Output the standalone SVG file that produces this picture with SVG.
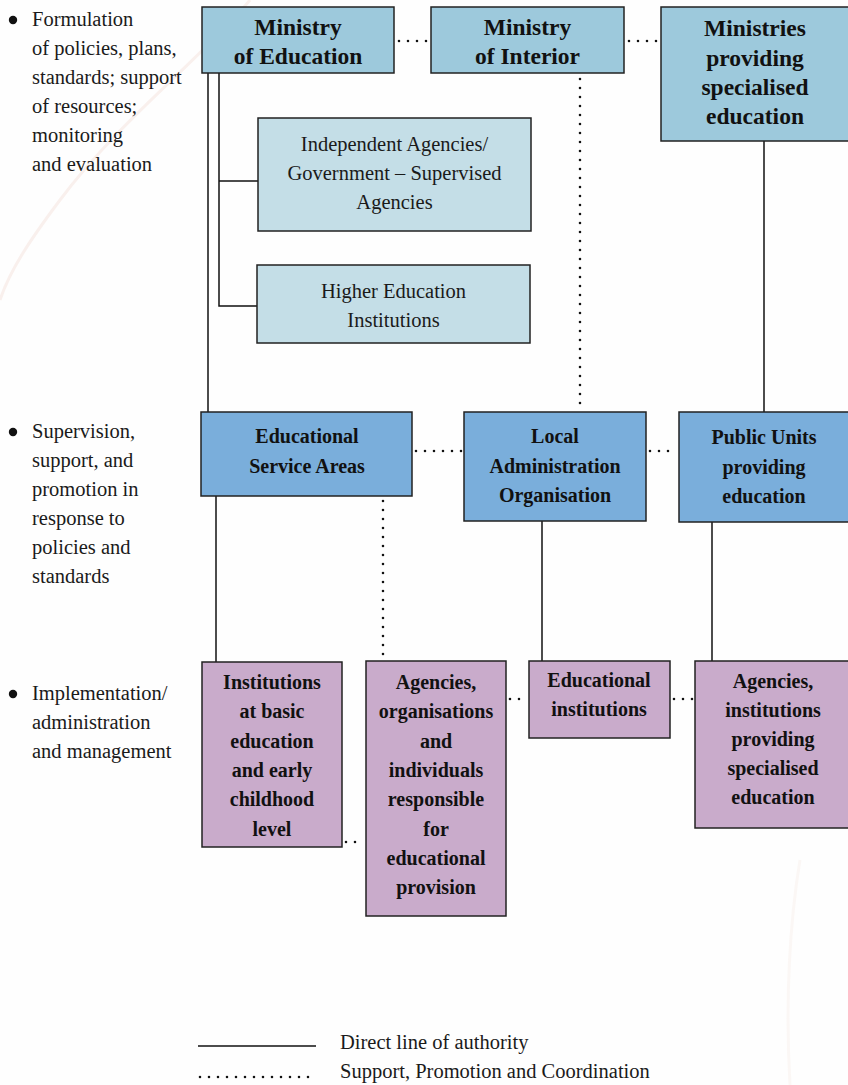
<svg xmlns="http://www.w3.org/2000/svg" width="848" height="1085" viewBox="0 0 848 1085">
<style>
.side{font-family:"Liberation Serif",serif;font-size:20.5px;fill:#1a1a1a}
.t{font-family:"Liberation Serif",serif;font-weight:bold;fill:#111;text-anchor:middle}
.t22{font-size:23.5px}
.t18{font-size:20px}
.r{font-family:"Liberation Serif",serif;font-size:20.5px;fill:#1a1a1a;text-anchor:middle}
.b{stroke:#222;stroke-width:1.5}
.top{fill:#9dc9dc}
.sub{fill:#c4dee7}
.mid{fill:#7aaedb}
.low{fill:#c9abcb}
.solid{stroke:#111;stroke-width:1.5;fill:none}
.dot{stroke:#111;stroke-width:2.6;stroke-linecap:round;stroke-dasharray:0 9;fill:none}
</style>
<rect width="848" height="1085" fill="#fefefe"/>
<path d="M250,0 C200,60 120,120 60,200 C30,240 10,270 0,300" stroke="#f5e0da" stroke-width="3" fill="none" opacity="0.45"/>
<path d="M800,860 C790,920 785,1000 790,1085" stroke="#f7eae6" stroke-width="3" fill="none" opacity="0.35"/>

<g id="legend-side">
<circle cx="13" cy="20" r="4.2" fill="#111"/>
<text class="side" x="32" y="26">Formulation</text>
<text class="side" x="32" y="55">of policies, plans,</text>
<text class="side" x="32" y="84">standards; support</text>
<text class="side" x="32" y="113">of resources;</text>
<text class="side" x="32" y="142">monitoring</text>
<text class="side" x="32" y="171">and evaluation</text>
<circle cx="13" cy="432" r="4.2" fill="#111"/>
<text class="side" x="32" y="438">Supervision,</text>
<text class="side" x="32" y="467">support, and</text>
<text class="side" x="32" y="496">promotion in</text>
<text class="side" x="32" y="525">response to</text>
<text class="side" x="32" y="554">policies and</text>
<text class="side" x="32" y="583">standards</text>
<circle cx="13" cy="694" r="4.2" fill="#111"/>
<text class="side" x="32" y="700">Implementation/</text>
<text class="side" x="32" y="729">administration</text>
<text class="side" x="32" y="758">and management</text>
</g>

<g id="connectors">
<line class="solid" x1="208" y1="73" x2="208" y2="412"/>
<polyline class="solid" points="219,73 219,306 257,306"/>
<line class="solid" x1="219" y1="181" x2="258" y2="181"/>
<line class="solid" x1="764" y1="141" x2="764" y2="412"/>
<line class="solid" x1="216" y1="496" x2="216" y2="662"/>
<line class="solid" x1="542" y1="521" x2="542" y2="661"/>
<line class="solid" x1="712" y1="522" x2="712" y2="661"/>
<line class="dot" x1="399" y1="41" x2="429" y2="41"/>
<line class="dot" x1="629" y1="41" x2="659" y2="41"/>
<line class="dot" x1="580" y1="79" x2="580" y2="410"/>
<line class="dot" x1="416" y1="451" x2="462" y2="451"/>
<line class="dot" x1="650" y1="451" x2="677" y2="451"/>
<line class="dot" x1="383" y1="501" x2="383" y2="659"/>
<line class="dot" x1="346" y1="842" x2="364" y2="842"/>
<line class="dot" x1="510" y1="699" x2="528" y2="699"/>
<line class="dot" x1="674" y1="699" x2="693" y2="699"/>
</g>

<g id="ministry-education">
<rect class="b top" x="202" y="7" width="192" height="66"/>
<text class="t t22" x="298" y="35">Ministry</text>
<text class="t t22" x="298" y="64">of Education</text>
</g>
<g id="ministry-interior">
<rect class="b top" x="431" y="7" width="193" height="66"/>
<text class="t t22" x="527.5" y="35">Ministry</text>
<text class="t t22" x="527.5" y="64">of Interior</text>
</g>
<g id="ministries-specialised">
<rect class="b top" x="661" y="7" width="190" height="134"/>
<text class="t t22" x="755" y="36">Ministries</text>
<text class="t t22" x="755" y="66">providing</text>
<text class="t t22" x="755" y="95">specialised</text>
<text class="t t22" x="755" y="124">education</text>
</g>
<g id="independent-agencies">
<rect class="b sub" x="258" y="118" width="273" height="113"/>
<text class="r" x="394.5" y="151">Independent Agencies/</text>
<text class="r" x="394.5" y="180">Government – Supervised</text>
<text class="r" x="394.5" y="209">Agencies</text>
</g>
<g id="higher-education">
<rect class="b sub" x="257" y="265" width="273" height="78"/>
<text class="r" x="393.5" y="298">Higher Education</text>
<text class="r" x="393.5" y="327">Institutions</text>
</g>
<g id="educational-service-areas">
<rect class="b mid" x="201" y="412" width="211" height="84"/>
<text class="t t18" x="307" y="443">Educational</text>
<text class="t t18" x="307" y="473">Service Areas</text>
</g>
<g id="local-administration">
<rect class="b mid" x="464" y="412" width="182" height="109"/>
<text class="t t18" x="555" y="443">Local</text>
<text class="t t18" x="555" y="473">Administration</text>
<text class="t t18" x="555" y="502">Organisation</text>
</g>
<g id="public-units">
<rect class="b mid" x="679" y="412" width="172" height="110"/>
<text class="t t18" x="764" y="444">Public Units</text>
<text class="t t18" x="764" y="474">providing</text>
<text class="t t18" x="764" y="503">education</text>
</g>
<g id="institutions-basic">
<rect class="b low" x="202" y="662" width="140" height="185"/>
<text class="t t18" x="272" y="689">Institutions</text>
<text class="t t18" x="272" y="718">at basic</text>
<text class="t t18" x="272" y="748">education</text>
<text class="t t18" x="272" y="777">and early</text>
<text class="t t18" x="272" y="806">childhood</text>
<text class="t t18" x="272" y="836">level</text>
</g>
<g id="agencies-organisations">
<rect class="b low" x="366" y="661" width="140" height="255"/>
<text class="t t18" x="436" y="689">Agencies,</text>
<text class="t t18" x="436" y="718">organisations</text>
<text class="t t18" x="436" y="748">and</text>
<text class="t t18" x="436" y="777">individuals</text>
<text class="t t18" x="436" y="806">responsible</text>
<text class="t t18" x="436" y="836">for</text>
<text class="t t18" x="436" y="865">educational</text>
<text class="t t18" x="436" y="894">provision</text>
</g>
<g id="educational-institutions">
<rect class="b low" x="529" y="661" width="141" height="77"/>
<text class="t t18" x="599" y="687">Educational</text>
<text class="t t18" x="599" y="716">institutions</text>
</g>
<g id="agencies-specialised">
<rect class="b low" x="695" y="661" width="156" height="167"/>
<text class="t t18" x="773" y="688">Agencies,</text>
<text class="t t18" x="773" y="717">institutions</text>
<text class="t t18" x="773" y="746">providing</text>
<text class="t t18" x="773" y="775">specialised</text>
<text class="t t18" x="773" y="804">education</text>
</g>

<g id="legend">
<line class="solid" x1="198" y1="1046" x2="316" y2="1046"/>
<line class="dot" x1="200" y1="1077" x2="316" y2="1077" stroke-width="2" stroke-dasharray="0 8.4"/>
<text class="side" x="340" y="1049">Direct line of authority</text>
<text class="side" x="340" y="1078">Support, Promotion and Coordination</text>
</g>
</svg>
